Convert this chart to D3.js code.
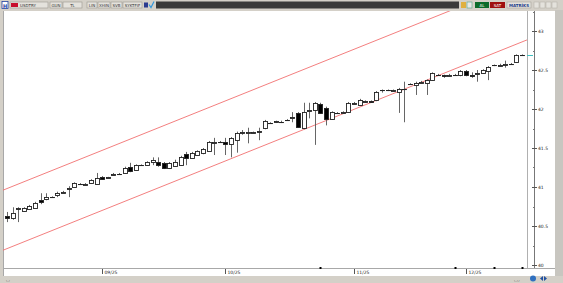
<!DOCTYPE html>
<html>
<head>
<meta charset="utf-8">
<script src="https://cdn.jsdelivr.net/npm/d3@7"></script>
<style>
  body { margin: 0; background: #fff; }
  svg { display: block; font-family: 'DejaVu Sans', sans-serif; }
</style>
</head>
<body>
<svg id="chart" width="563" height="283"></svg>
<script>
// USDTRY daily candles (open, high, low, close)
const symbol = 'USDTRY'
const firstDay = '2025-08-07'
const opens = [40.63, 40.61, 40.72, 40.69, 40.72, 40.74, 40.83, 40.85, 40.87, 40.90, 40.93, 40.98, 41.00, 41.04, 41.03, 41.05, 41.04, 41.13, 41.12, 41.16, 41.17, 41.18, 41.26, 41.22, 41.28, 41.28, 41.32, 41.32, 41.31, 41.24, 41.27, 41.28, 41.42, 41.38, 41.41, 41.44, 41.47, 41.57, 41.58, 41.58, 41.55, 41.60, 41.69, 41.69, 41.70, 41.71, 41.76, 41.82, 41.83, 41.83, 41.86, 41.89, 41.95, 41.76, 41.98, 41.99, 42.06, 42.01, 41.87, 41.95, 41.95, 41.96, 42.07, 42.05, 42.09, 42.10, 42.12, 42.24, 42.24, 42.24, 42.22, 42.26, 42.32, 42.31, 42.34, 42.33, 42.37, 42.44, 42.44, 42.43, 42.44, 42.44, 42.49, 42.44, 42.45, 42.46, 42.49, 42.56, 42.56, 42.57, 42.58, 42.60, 42.69]
const highs = [40.68, 40.74, 40.74, 40.74, 40.77, 40.81, 40.92, 40.92, 40.88, 40.94, 40.95, 41.01, 41.06, 41.05, 41.05, 41.10, 41.18, 41.14, 41.13, 41.18, 41.18, 41.26, 41.31, 41.29, 41.29, 41.33, 41.38, 41.38, 41.32, 41.32, 41.35, 41.40, 41.45, 41.45, 41.47, 41.50, 41.59, 41.63, 41.59, 41.63, 41.64, 41.71, 41.73, 41.76, 41.71, 41.76, 41.86, 41.83, 41.85, 41.85, 41.87, 41.96, 41.96, 42.08, 42.08, 42.09, 42.08, 42.03, 41.97, 41.96, 41.97, 42.09, 42.09, 42.13, 42.11, 42.11, 42.23, 42.25, 42.25, 42.25, 42.27, 42.35, 42.33, 42.35, 42.36, 42.38, 42.47, 42.45, 42.44, 42.45, 42.45, 42.50, 42.50, 42.47, 42.50, 42.51, 42.55, 42.57, 42.58, 42.62, 42.59, 42.70, 42.70]
const lows = [40.55, 40.58, 40.55, 40.68, 40.71, 40.73, 40.78, 40.83, 40.86, 40.87, 40.92, 40.87, 40.99, 41.03, 41.02, 41.04, 41.03, 41.09, 41.12, 41.15, 41.16, 41.17, 41.19, 41.21, 41.27, 41.27, 41.28, 41.26, 41.23, 41.23, 41.26, 41.27, 41.28, 41.37, 41.40, 41.42, 41.46, 41.41, 41.57, 41.41, 41.38, 41.44, 41.67, 41.56, 41.69, 41.60, 41.74, 41.81, 41.82, 41.82, 41.85, 41.83, 41.76, 41.74, 41.88, 41.54, 41.94, 41.79, 41.86, 41.94, 41.94, 41.95, 42.06, 42.04, 42.08, 42.08, 42.10, 42.21, 42.23, 42.23, 41.95, 41.83, 42.31, 42.18, 42.33, 42.18, 42.36, 42.43, 42.40, 42.42, 42.43, 42.42, 42.42, 42.40, 42.35, 42.45, 42.37, 42.55, 42.55, 42.53, 42.57, 42.59, 42.68]
const closes = [40.60, 40.67, 40.73, 40.73, 40.76, 40.80, 40.80, 40.87, 40.87, 40.92, 40.94, 40.99, 41.05, 41.04, 41.04, 41.09, 41.12, 41.10, 41.13, 41.17, 41.17, 41.24, 41.21, 41.28, 41.28, 41.32, 41.35, 41.28, 41.24, 41.31, 41.32, 41.38, 41.37, 41.44, 41.46, 41.49, 41.58, 41.58, 41.58, 41.55, 41.63, 41.69, 41.70, 41.70, 41.71, 41.72, 41.85, 41.82, 41.84, 41.83, 41.86, 41.90, 41.77, 41.96, 41.99, 42.08, 41.95, 41.87, 41.96, 41.95, 41.96, 42.08, 42.08, 42.12, 42.10, 42.09, 42.22, 42.24, 42.24, 42.25, 42.26, 42.26, 42.32, 42.33, 42.35, 42.37, 42.46, 42.44, 42.43, 42.44, 42.44, 42.49, 42.44, 42.43, 42.46, 42.50, 42.54, 42.56, 42.57, 42.58, 42.58, 42.69, 42.69]

// trend channel: value at first and last bar
const channelLower = [40.21, 42.86]
const channelUpper = [40.98, 43.63]

const yTicks = [40, 40.5, 41, 41.5, 42, 42.5, 43]
const yMinorTicks = [40.25, 40.75, 41.25, 41.75, 42.25, 42.75, 43.25]
const monthLabels = ['09/25', '10/25', '11/25', '12/25']
const markerDays = ['2025-10-24', '2025-11-27', '2025-12-08', '2025-12-15']

// trading days (weekdays) starting at firstDay
function tradingDays (start, n) {
  const out = []
  const d = new Date(start + 'T12:00:00Z')
  while (out.length < n) {
    const wd = d.getUTCDay()
    if (wd !== 0 && wd !== 6) out.push(d.toISOString().slice(0, 10))
    d.setUTCDate(d.getUTCDate() + 1)
  }
  return out
}

const days = tradingDays(firstDay, closes.length)
const bars = days.map((day, i) => ({
  day: day,
  open: opens[i],
  high: highs[i],
  low: lows[i],
  close: closes[i]
}))

const W = 563
const H = 283
const plot = { left: 3, right: 527, top: 11, bottom: 268 }

const svg = d3.select('#chart')

const x = d3.scalePoint()
  .domain(days)
  .range([7, 522])
const y = d3.scaleLinear()
  .domain([40, 43])
  .range([265, 31])

// ---- window chrome ----
svg.append('rect').attr('x', 0).attr('y', 0).attr('width', W).attr('height', H).attr('fill', '#d4d0c8')
svg.append('rect').attr('x', plot.left).attr('y', plot.top)
  .attr('width', 552).attr('height', 276 - plot.top)
  .attr('fill', '#fff')

// toolbar
const tb = svg.append('g').attr('class', 'toolbar')
tb.append('rect').attr('x', 0).attr('y', 0).attr('width', W).attr('height', 10).attr('fill', '#d4d0c8')
tb.append('rect').attr('x', 2).attr('y', 1.5).attr('width', 6).attr('height', 7).attr('fill', '#fff').attr('stroke', '#2040a0').attr('stroke-width', 0.8)
tb.append('text').attr('x', 5).attr('y', 7.5).attr('text-anchor', 'middle').attr('font-size', 5).attr('font-weight', 'bold').attr('fill', '#2040a0').text('H')

const fields = [
  { x: 10, w: 38, t: symbol },
  { x: 50, w: 12, t: 'GUN' },
  { x: 63, w: 19, t: 'TL' },
  { x: 87, w: 10, t: 'LIN' },
  { x: 98, w: 12, t: 'XHIN' },
  { x: 111, w: 11, t: 'SVB' },
  { x: 123, w: 19, t: 'SYKTFIF' }
]
fields.forEach(f => {
  tb.append('rect').attr('x', f.x).attr('y', 2).attr('width', f.w).attr('height', 6)
    .attr('fill', '#e4e2dc').attr('stroke', '#9a978f').attr('stroke-width', 0.6)
  tb.append('text').attr('x', f.x + (f.t === symbol ? 10 : f.w / 2)).attr('y', 6.8)
    .attr('text-anchor', f.t === symbol ? 'start' : 'middle')
    .attr('font-size', 4).attr('fill', '#333').text(f.t)
})
tb.append('rect').attr('x', 11).attr('y', 3).attr('width', 7).attr('height', 4).attr('fill', '#c8102e')
tb.append('rect').attr('x', 144).attr('y', 2.5).attr('width', 4).attr('height', 5).attr('fill', '#2b3b8f')
tb.append('path').attr('d', 'M149,4.5 L151,7.5 L154,1.5').attr('fill', 'none').attr('stroke', '#3399dd').attr('stroke-width', 1.2)
tb.append('rect').attr('x', 156).attr('y', 1.5).attr('width', 303).attr('height', 7).attr('fill', '#3a3a3a')
tb.append('rect').attr('x', 461).attr('y', 2).attr('width', 5).attr('height', 6).attr('fill', '#e0b040')
tb.append('rect').attr('x', 467).attr('y', 2).attr('width', 5).attr('height', 6).attr('fill', '#e8e8e8').attr('stroke', '#3a9a7a').attr('stroke-width', 0.5)
tb.append('rect').attr('x', 475).attr('y', 2).attr('width', 14).attr('height', 6).attr('fill', '#0b6b2b')
tb.append('text').attr('x', 482).attr('y', 6.8).attr('text-anchor', 'middle').attr('font-size', 4).attr('fill', '#fff').text('AL')
tb.append('rect').attr('x', 490).attr('y', 2).attr('width', 15).attr('height', 6).attr('fill', '#a01010')
tb.append('text').attr('x', 497.5).attr('y', 6.8).attr('text-anchor', 'middle').attr('font-size', 4).attr('fill', '#fff').text('SAT')
tb.append('rect').attr('x', 507).attr('y', 2).attr('width', 24).attr('height', 6).attr('fill', '#e4e2dc').attr('stroke', '#9a978f').attr('stroke-width', 0.5)
tb.append('text').attr('x', 519).attr('y', 6.8).attr('text-anchor', 'middle').attr('font-size', 4).attr('fill', '#223a8a').attr('font-weight', 'bold').text('MATRİKS')
d3.range(4).forEach(i => {
  tb.append('rect').attr('x', 534 + i * 6).attr('y', 2).attr('width', 5).attr('height', 6)
    .attr('fill', '#e4e2dc').attr('stroke', '#b0ada5').attr('stroke-width', 0.5)
})

// frame lines
svg.append('line').attr('x1', plot.right + 0.5).attr('x2', plot.right + 0.5).attr('y1', plot.top).attr('y2', plot.bottom).attr('stroke', '#b0b0b0')
svg.append('line').attr('x1', plot.left).attr('x2', 555).attr('y1', plot.bottom + 0.5).attr('y2', plot.bottom + 0.5).attr('stroke', '#a8a8a8')
svg.append('line').attr('x1', plot.left + 0.5).attr('x2', plot.left + 0.5).attr('y1', plot.top).attr('y2', 276).attr('stroke', '#a8a8a8')
svg.append('rect').attr('x', 555).attr('y', 10).attr('width', 8).attr('height', 273).attr('fill', '#c8c6c0')
svg.append('rect').attr('x', 0).attr('y', 276).attr('width', W).attr('height', 7).attr('fill', '#d4d0c8')

// ---- channel ----
const clip = svg.append('clipPath').attr('id', 'plotclip')
clip.append('rect').attr('x', plot.left).attr('y', plot.top)
  .attr('width', plot.right - plot.left).attr('height', plot.bottom - plot.top)

const x0 = x(days[0])
const x1 = x(days[days.length - 1])
function channelLine (vals) {
  const slope = (y(vals[1]) - y(vals[0])) / (x1 - x0)
  return [
    [plot.left, y(vals[0]) + slope * (plot.left - x0)],
    [plot.right, y(vals[0]) + slope * (plot.right - x0)]
  ]
}
const chan = svg.append('g').attr('clip-path', 'url(#plotclip)')
;[channelUpper, channelLower].forEach(c => {
  chan.append('path')
    .attr('d', d3.line()(channelLine(c)))
    .attr('stroke', '#f27070')
    .attr('stroke-width', 0.9)
    .attr('fill', 'none')
})

// ---- candles ----
const candle = svg.append('g').selectAll('g')
  .data(bars)
  .enter()
  .append('g')

candle.append('line')
  .attr('x1', d => Math.round(x(d.day)) + 0.5)
  .attr('x2', d => Math.round(x(d.day)) + 0.5)
  .attr('y1', d => y(d.high))
  .attr('y2', d => y(d.low))
  .attr('stroke', '#555')
  .attr('stroke-width', 0.9)

candle.append('rect')
  .attr('x', d => Math.round(x(d.day)) - 1.5)
  .attr('y', d => Math.round(y(Math.max(d.open, d.close))) + 0.5)
  .attr('width', 4)
  .attr('height', d => Math.max(0.1, Math.round(Math.abs(y(d.open) - y(d.close)))))
  .attr('fill', d => d.close < d.open ? '#000' : '#fff')
  .attr('stroke', '#222')
  .attr('stroke-width', 0.9)

// ---- right axis ----
const axisX = 534
svg.append('line').attr('x1', axisX + 0.5).attr('x2', axisX + 0.5).attr('y1', plot.top).attr('y2', plot.bottom).attr('stroke', '#777')
const yAxis = svg.append('g').attr('font-size', 4.5).attr('fill', '#222')
yTicks.forEach(v => {
  yAxis.append('line').attr('x1', axisX - 2).attr('x2', axisX + 3).attr('y1', Math.round(y(v)) + 0.5).attr('y2', Math.round(y(v)) + 0.5).attr('stroke', '#555')
  yAxis.append('text').attr('x', axisX + 4).attr('y', y(v) + 1.6).text(d3.format('~g')(v))
})
yMinorTicks.forEach(v => {
  if (y(v) < plot.top) return
  yAxis.append('line').attr('x1', axisX - 1).attr('x2', axisX + 1).attr('y1', Math.round(y(v)) + 0.5).attr('y2', Math.round(y(v)) + 0.5).attr('stroke', '#777')
})
// last price marker
const last = bars[bars.length - 1]
yAxis.append('line').attr('x1', plot.right).attr('x2', axisX - 1).attr('y1', Math.round(y(last.close)) + 0.5).attr('y2', Math.round(y(last.close)) + 0.5).attr('stroke', '#40c0c0')

// ---- date axis ----
const monthStarts = days.filter((d, i) => i > 0 && d.slice(5, 7) !== days[i - 1].slice(5, 7))
const xAxis = svg.append('g').attr('font-size', 4.5).attr('fill', '#222')
monthStarts.forEach((d, i) => {
  const px = Math.round(x(d)) + 0.5
  xAxis.append('line').attr('x1', px).attr('x2', px).attr('y1', 269).attr('y2', 274).attr('stroke', '#555')
  xAxis.append('text').attr('x', px + 2).attr('y', 273.5).text(monthLabels[i])
})
markerDays.forEach(d => {
  xAxis.append('rect').attr('x', Math.round(x(d)) - 0.5).attr('y', 267).attr('width', 2).attr('height', 2).attr('fill', '#000')
})
svg.append('text').attr('x', 6).attr('y', 281).attr('font-size', 4).attr('fill', '#555').text('⌞⌟')
svg.append('text').attr('x', 514).attr('y', 281).attr('font-size', 4).attr('fill', '#555').text('⌞⌟⌟')
svg.append('circle').attr('cx', 533).attr('cy', 278.5).attr('r', 3).attr('fill', '#3070c0')
svg.append('path').attr('d', 'M540,278.5 L543,276 L543,281 Z M547,278.5 L544,276 L544,281 Z').attr('fill', '#2050a0')
</script>
</body>
</html>
